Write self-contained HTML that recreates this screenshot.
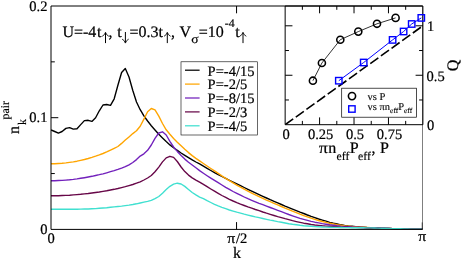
<!DOCTYPE html>
<html><head><meta charset="utf-8"><title>chart</title>
<style>
html,body{margin:0;padding:0;background:#fff;}
svg text{font-family:"Liberation Serif",serif;fill:#000;text-rendering:geometricPrecision;stroke:#000;stroke-width:0.22px;}
svg{will-change:transform;opacity:0.999;}
</style></head>
<body>
<svg width="463" height="259" viewBox="0 0 463 259" style="display:block">
<rect x="0" y="0" width="463" height="259" fill="#fff"/>
<defs><clipPath id="mc"><rect x="51.0" y="6.0" width="371.5" height="223.4"/></clipPath><clipPath id="ic"><rect x="285.15" y="6.0" width="141.35000000000002" height="118.7"/></clipPath></defs>
<g fill="none" stroke-linejoin="round" stroke-linecap="butt" clip-path="url(#mc)">
<path d="M51.0,129.9 L54.7,131.5 L58.4,133.1 L62.1,131.5 L65.9,128.4 L69.6,127.6 L73.3,129.1 L77.0,128.8 L80.7,124.6 L84.4,120.6 L88.2,120.3 L91.9,121.4 L95.6,117.8 L99.3,110.8 L103.0,105.0 L106.7,104.5 L110.5,105.4 L114.2,98.8 L117.9,85.2 L121.6,72.5 L125.3,68.5 L129.0,77.0 L132.8,90.5 L136.5,102.0 L140.2,109.7 L143.9,115.9 L147.6,121.0 L151.3,125.7 L155.0,130.0 L158.8,134.3 L162.5,138.0 L166.2,141.6 L169.9,144.9 L173.6,147.8 L177.3,150.4 L181.1,153.0 L184.8,155.4 L188.5,157.7 L192.2,159.9 L195.9,162.0 L199.6,163.9 L203.4,166.1 L207.1,168.3 L210.8,170.5 L214.5,172.6 L218.2,174.6 L221.9,176.5 L225.7,178.4 L229.4,180.3 L233.1,182.1 L236.8,183.9 L240.5,185.7 L244.2,187.5 L247.9,189.3 L251.7,191.1 L255.4,192.9 L259.1,194.6 L262.8,196.3 L266.5,198.0 L270.2,199.7 L274.0,201.3 L277.7,202.9 L281.4,204.5 L285.1,206.1 L288.8,207.6 L292.5,209.1 L296.3,210.6 L300.0,212.1 L303.7,213.5 L307.4,215.0 L311.1,216.4 L314.8,217.7 L318.6,219.0 L322.3,220.1 L326.0,221.2 L329.7,222.3 L333.4,223.2 L337.1,224.0 L340.8,224.8 L344.6,225.4 L348.3,225.9 L352.0,226.3 L355.7,226.7 L359.4,227.0 L363.1,227.2 L366.9,227.5 L370.6,227.7 L374.3,227.8 L378.0,228.0 L381.7,228.2 L385.4,228.3 L389.2,228.4 L392.9,228.6 L396.6,228.7 L400.3,228.8 L404.0,228.9 L407.7,229.0 L411.5,229.1 L415.2,229.2 L418.9,229.2 L422.6,229.3" stroke="#000000" stroke-width="1.38"/>
<path d="M51.0,163.8 L54.7,163.7 L58.4,163.5 L62.1,163.3 L65.9,162.9 L69.6,162.4 L73.3,161.9 L77.0,161.2 L80.7,160.3 L84.4,159.5 L88.2,158.5 L91.9,157.4 L95.6,156.2 L99.3,154.9 L103.0,153.5 L106.7,151.9 L110.5,150.1 L114.2,148.3 L117.9,146.5 L121.6,143.4 L125.3,140.1 L129.0,136.9 L132.8,133.6 L136.5,130.8 L140.2,126.2 L143.9,119.1 L147.6,111.7 L151.3,108.5 L155.0,109.9 L158.8,116.1 L162.5,123.5 L166.2,129.8 L169.9,134.3 L173.6,138.5 L177.3,142.2 L181.1,145.8 L184.8,149.3 L188.5,152.6 L192.2,155.6 L195.9,158.4 L199.6,160.9 L203.4,163.5 L207.1,166.0 L210.8,168.5 L214.5,170.9 L218.2,173.4 L221.9,175.9 L225.7,178.3 L229.4,180.6 L233.1,182.9 L236.8,185.1 L240.5,187.2 L244.2,189.2 L247.9,191.2 L251.7,193.1 L255.4,194.9 L259.1,196.7 L262.8,198.4 L266.5,200.1 L270.2,201.7 L274.0,203.4 L277.7,204.9 L281.4,206.5 L285.1,208.1 L288.8,209.6 L292.5,211.2 L296.3,212.7 L300.0,214.2 L303.7,215.6 L307.4,216.9 L311.1,218.2 L314.8,219.4 L318.6,220.5 L322.3,221.5 L326.0,222.4 L329.7,223.3 L333.4,224.0 L337.1,224.7 L340.8,225.2 L344.6,225.7 L348.3,226.1 L352.0,226.5 L355.7,226.8 L359.4,227.1 L363.1,227.3 L366.9,227.5 L370.6,227.7 L374.3,227.9 L378.0,228.0 L381.7,228.2 L385.4,228.3 L389.2,228.4 L392.9,228.6 L396.6,228.7 L400.3,228.8 L404.0,228.9 L407.7,229.0 L411.5,229.1 L415.2,229.2 L418.9,229.2 L422.6,229.3" stroke="#ffa500" stroke-width="1.38"/>
<path d="M51.0,180.7 L54.7,180.7 L58.4,180.5 L62.1,180.4 L65.9,180.1 L69.6,179.8 L73.3,179.4 L77.0,178.9 L80.7,178.3 L84.4,177.7 L88.2,177.0 L91.9,176.3 L95.6,175.5 L99.3,174.7 L103.0,173.8 L106.7,172.8 L110.5,171.7 L114.2,170.6 L117.9,169.4 L121.6,168.1 L125.3,166.7 L129.0,164.8 L132.8,162.5 L136.5,159.6 L140.2,156.1 L143.9,153.8 L147.6,150.3 L151.3,145.0 L155.0,138.3 L158.8,133.0 L162.5,131.8 L166.2,135.0 L169.9,141.3 L173.6,147.0 L177.3,151.4 L181.1,155.4 L184.8,159.1 L188.5,162.2 L192.2,165.0 L195.9,167.8 L199.6,170.6 L203.4,173.2 L207.1,175.7 L210.8,178.1 L214.5,180.4 L218.2,182.7 L221.9,185.0 L225.7,187.3 L229.4,189.4 L233.1,191.5 L236.8,193.4 L240.5,195.2 L244.2,197.0 L247.9,198.7 L251.7,200.3 L255.4,201.8 L259.1,203.3 L262.8,204.7 L266.5,206.1 L270.2,207.5 L274.0,208.9 L277.7,210.3 L281.4,211.7 L285.1,213.1 L288.8,214.5 L292.5,215.8 L296.3,217.1 L300.0,218.3 L303.7,219.3 L307.4,220.3 L311.1,221.3 L314.8,222.2 L318.6,222.9 L322.3,223.6 L326.0,224.2 L329.7,224.8 L333.4,225.2 L337.1,225.7 L340.8,226.1 L344.6,226.4 L348.3,226.7 L352.0,227.0 L355.7,227.2 L359.4,227.4 L363.1,227.5 L366.9,227.6 L370.6,227.8 L374.3,227.9 L378.0,228.0 L381.7,228.2 L385.4,228.3 L389.2,228.4 L392.9,228.6 L396.6,228.7 L400.3,228.8 L404.0,228.9 L407.7,229.0 L411.5,229.1 L415.2,229.2 L418.9,229.2 L422.6,229.3" stroke="#7221bc" stroke-width="1.38"/>
<path d="M51.0,195.8 L54.7,195.7 L58.4,195.7 L62.1,195.5 L65.9,195.4 L69.6,195.2 L73.3,194.9 L77.0,194.6 L80.7,194.3 L84.4,193.9 L88.2,193.5 L91.9,193.0 L95.6,192.5 L99.3,192.0 L103.0,191.4 L106.7,190.8 L110.5,190.0 L114.2,189.3 L117.9,188.5 L121.6,187.6 L125.3,186.7 L129.0,185.6 L132.8,184.5 L136.5,183.2 L140.2,181.8 L143.9,180.0 L147.6,178.0 L151.3,175.5 L155.0,171.8 L158.8,167.1 L162.5,161.9 L166.2,157.9 L169.9,156.3 L173.6,157.4 L177.3,161.5 L181.1,167.0 L184.8,171.6 L188.5,175.1 L192.2,177.9 L195.9,180.1 L199.6,182.1 L203.4,184.4 L207.1,186.7 L210.8,189.0 L214.5,191.2 L218.2,193.4 L221.9,195.5 L225.7,197.4 L229.4,199.3 L233.1,201.0 L236.8,202.6 L240.5,204.1 L244.2,205.5 L247.9,206.9 L251.7,208.2 L255.4,209.5 L259.1,210.7 L262.8,212.0 L266.5,213.2 L270.2,214.3 L274.0,215.5 L277.7,216.6 L281.4,217.6 L285.1,218.7 L288.8,219.7 L292.5,220.7 L296.3,221.6 L300.0,222.4 L303.7,223.2 L307.4,223.8 L311.1,224.5 L314.8,225.0 L318.6,225.4 L322.3,225.8 L326.0,226.1 L329.7,226.3 L333.4,226.6 L337.1,226.8 L340.8,227.0 L344.6,227.1 L348.3,227.3 L352.0,227.4 L355.7,227.4 L359.4,227.5 L363.1,227.6 L366.9,227.7 L370.6,227.8 L374.3,227.9 L378.0,228.0 L381.7,228.1 L385.4,228.3 L389.2,228.4 L392.9,228.6 L396.6,228.7 L400.3,228.8 L404.0,228.9 L407.7,229.0 L411.5,229.1 L415.2,229.2 L418.9,229.2 L422.6,229.3" stroke="#670748" stroke-width="1.38"/>
<path d="M51.0,209.2 L54.7,209.2 L58.4,209.2 L62.1,209.2 L65.9,209.2 L69.6,209.2 L73.3,209.2 L77.0,209.2 L80.7,209.1 L84.4,209.0 L88.2,209.0 L91.9,208.8 L95.6,208.6 L99.3,208.3 L103.0,208.0 L106.7,207.7 L110.5,207.3 L114.2,206.9 L117.9,206.5 L121.6,206.1 L125.3,205.6 L129.0,205.1 L132.8,204.5 L136.5,203.8 L140.2,203.0 L143.9,202.2 L147.6,201.4 L151.3,200.4 L155.0,198.7 L158.8,196.5 L162.5,193.2 L166.2,189.6 L169.9,186.3 L173.6,184.1 L177.3,183.2 L181.1,184.0 L184.8,186.4 L188.5,189.5 L192.2,192.5 L195.9,194.9 L199.6,197.1 L203.4,198.7 L207.1,200.7 L210.8,202.5 L214.5,204.3 L218.2,205.9 L221.9,207.4 L225.7,208.7 L229.4,210.0 L233.1,211.1 L236.8,212.2 L240.5,213.2 L244.2,214.2 L247.9,215.1 L251.7,216.0 L255.4,216.9 L259.1,217.7 L262.8,218.5 L266.5,219.3 L270.2,220.1 L274.0,220.8 L277.7,221.6 L281.4,222.3 L285.1,223.0 L288.8,223.7 L292.5,224.3 L296.3,224.8 L300.0,225.3 L303.7,225.7 L307.4,226.0 L311.1,226.3 L314.8,226.6 L318.6,226.8 L322.3,227.0 L326.0,227.1 L329.7,227.2 L333.4,227.4 L337.1,227.4 L340.8,227.5 L344.6,227.6 L348.3,227.6 L352.0,227.7 L355.7,227.7 L359.4,227.8 L363.1,227.8 L366.9,227.9 L370.6,227.9 L374.3,228.0 L378.0,228.1 L381.7,228.2 L385.4,228.3 L389.2,228.4 L392.9,228.6 L396.6,228.7 L400.3,228.8 L404.0,228.9 L407.7,229.0 L411.5,229.1 L415.2,229.2 L418.9,229.2 L422.6,229.3" stroke="#40e0d0" stroke-width="1.38"/>
</g>
<rect x="181.0" y="61.8" width="76.5" height="73.2" fill="#fff" stroke="#000" stroke-width="0.6"/>
<line x1="185.0" x2="199.6" y1="70.20" y2="70.20" stroke="#000000" stroke-width="1.25"/>
<text x="207.6" y="75.5" font-size="14.5">P=-4/15</text>
<line x1="185.0" x2="199.6" y1="84.10" y2="84.10" stroke="#ffa500" stroke-width="1.25"/>
<text x="207.6" y="89.3" font-size="14.5">P=-2/5</text>
<line x1="185.0" x2="199.6" y1="98.00" y2="98.00" stroke="#7221bc" stroke-width="1.25"/>
<text x="207.6" y="103.1" font-size="14.5">P=-8/15</text>
<line x1="185.0" x2="199.6" y1="111.90" y2="111.90" stroke="#670748" stroke-width="1.25"/>
<text x="207.6" y="116.9" font-size="14.5">P=-2/3</text>
<line x1="185.0" x2="199.6" y1="125.80" y2="125.80" stroke="#40e0d0" stroke-width="1.25"/>
<text x="207.6" y="130.7" font-size="14.5">P=-4/5</text>
<rect x="285.15" y="6.0" width="137.35000000000002" height="118.7" fill="#fff"/>
<g stroke="#000" stroke-width="1.0" fill="none">
<path d="M422.5,6.0 H51.0 V229.4 H422.5"/>
<line x1="422.5" x2="422.5" y1="6.0" y2="229.4" stroke-opacity="0.5"/>
<line x1="422.2" x2="422.2" y1="222.4" y2="229.4" stroke-opacity="0.6"/>
<line x1="51.0" x2="58.3" y1="117.70" y2="117.70"/>
<line x1="51.0" x2="54.8" y1="173.55" y2="173.55"/>
<line x1="51.0" x2="54.8" y1="61.85" y2="61.85"/>
<line x1="236.55" x2="236.55" y1="229.4" y2="222.1"/>
<line x1="236.55" x2="236.55" y1="6.0" y2="13.3"/>
<path d="M285.15,6.0 V124.7 H422.9 V6.0 H285.15"/>
<line x1="285.15" x2="292.45" y1="25.80" y2="25.80"/>
<line x1="422.9" x2="415.59999999999997" y1="25.80" y2="25.80"/>
<line x1="285.15" x2="292.45" y1="75.25" y2="75.25"/>
<line x1="422.9" x2="415.59999999999997" y1="75.25" y2="75.25"/>
<line x1="285.15" x2="288.95" y1="99.97" y2="99.97"/>
<line x1="422.9" x2="419.09999999999997" y1="99.97" y2="99.97"/>
<line x1="285.15" x2="288.95" y1="50.52" y2="50.52"/>
<line x1="422.9" x2="419.09999999999997" y1="50.52" y2="50.52"/>
<line x1="319.59" x2="319.59" y1="124.7" y2="117.4"/>
<line x1="319.59" x2="319.59" y1="6.0" y2="13.3"/>
<line x1="354.02" x2="354.02" y1="124.7" y2="117.4"/>
<line x1="354.02" x2="354.02" y1="6.0" y2="13.3"/>
<line x1="388.46" x2="388.46" y1="124.7" y2="117.4"/>
<line x1="388.46" x2="388.46" y1="6.0" y2="13.3"/>
<line x1="302.37" x2="302.37" y1="124.7" y2="120.9"/>
<line x1="302.37" x2="302.37" y1="6.0" y2="9.8"/>
<line x1="336.81" x2="336.81" y1="124.7" y2="120.9"/>
<line x1="336.81" x2="336.81" y1="6.0" y2="9.8"/>
<line x1="371.24" x2="371.24" y1="124.7" y2="120.9"/>
<line x1="371.24" x2="371.24" y1="6.0" y2="9.8"/>
<line x1="405.68" x2="405.68" y1="124.7" y2="120.9"/>
<line x1="405.68" x2="405.68" y1="6.0" y2="9.8"/>
</g>
<g clip-path="url(#ic)" fill="none">
<line x1="285.15" y1="124.7" x2="422.9" y2="25.80" stroke="#000" stroke-width="1.6" stroke-dasharray="9.9 3.2"/>
<polyline points="312.9,80.7 321.9,63.0 340.3,39.7 358.3,31.6 377.0,23.8 395.6,17.9" stroke="#000" stroke-width="0.8"/>
<polyline points="338.8,80.7 363.7,62.5 392.6,39.9 403.6,31.5 411.7,24.0 421.3,17.9" stroke="#0000ff" stroke-width="1"/>
</g>
<circle cx="312.9" cy="80.7" r="3.55" fill="#fff" fill-opacity="0" stroke="#000" stroke-width="1.55"/>
<circle cx="321.9" cy="63.0" r="3.55" fill="#fff" fill-opacity="0" stroke="#000" stroke-width="1.55"/>
<circle cx="340.3" cy="39.7" r="3.55" fill="#fff" fill-opacity="0" stroke="#000" stroke-width="1.55"/>
<circle cx="358.3" cy="31.6" r="3.55" fill="#fff" fill-opacity="0" stroke="#000" stroke-width="1.55"/>
<circle cx="377.0" cy="23.8" r="3.55" fill="#fff" fill-opacity="0" stroke="#000" stroke-width="1.55"/>
<circle cx="395.6" cy="17.9" r="3.55" fill="#fff" fill-opacity="0" stroke="#000" stroke-width="1.55"/>
<rect x="335.6" y="77.5" width="6.4" height="6.4" fill="none" stroke="#0000ff" stroke-width="1.4"/>
<rect x="360.5" y="59.3" width="6.4" height="6.4" fill="none" stroke="#0000ff" stroke-width="1.4"/>
<rect x="389.4" y="36.7" width="6.4" height="6.4" fill="none" stroke="#0000ff" stroke-width="1.4"/>
<rect x="400.4" y="28.3" width="6.4" height="6.4" fill="none" stroke="#0000ff" stroke-width="1.4"/>
<rect x="408.5" y="20.8" width="6.4" height="6.4" fill="none" stroke="#0000ff" stroke-width="1.4"/>
<rect x="418.1" y="14.7" width="6.4" height="6.4" fill="none" stroke="#0000ff" stroke-width="1.4"/>
<rect x="341.7" y="88.2" width="74.7" height="29.0" fill="#fff" stroke="#000" stroke-width="0.7"/>
<circle cx="352.0" cy="96.1" r="3.6" fill="none" stroke="#000" stroke-width="1.6"/>
<rect x="348.7" y="105.8" width="6.4" height="6.4" fill="none" stroke="#0000ff" stroke-width="1.4"/>
<text x="367.6" y="99.5" font-size="10.5" style="stroke-width:0.12px">vs P</text>
<text x="367.6" y="110.4" font-size="10.5" style="stroke-width:0.12px">vs πn<tspan font-size="7.4" dy="2.6">eff</tspan><tspan dy="-2.6">P</tspan><tspan font-size="7.4" dy="2.6">eff</tspan></text>
<g font-size="14.5">
<text x="47.4" y="10.8" text-anchor="end">0.2</text>
<text x="47.4" y="122.4" text-anchor="end">0.1</text>
<text x="47.4" y="233.9" text-anchor="end">0</text>
<text x="51.1" y="243.1" text-anchor="middle">0</text>
<text transform="translate(227.3,242.9) scale(1.09,1)">π</text>
<text x="236.0" y="242.9">/2</text>
<text transform="translate(418.2,240.6) scale(1.09,1)">π</text>
<text x="286.1" y="139.0" text-anchor="middle">0</text>
<text x="320.6" y="139.0" text-anchor="middle">0.25</text>
<text x="355.0" y="139.0" text-anchor="middle">0.5</text>
<text x="389.5" y="139.0" text-anchor="middle">0.75</text>
<text x="427.0" y="30.9">1</text>
<text x="426.6" y="81.0">0.5</text>
<text x="427.0" y="129.7">0</text>
</g>
<text x="237" y="257.7" font-size="16" text-anchor="middle">k</text>
<g font-size="16">
<text transform="translate(319.1,153.2) scale(1.09,1)">π</text>
<text x="328.3" y="153.2">n</text>
<text x="336.5" y="160.0" font-size="11.8" style="stroke-width:0.15px">eff</text>
<text x="349.7" y="153.2">P</text>
<text x="358.0" y="160.0" font-size="11.8" style="stroke-width:0.15px">eff</text>
<text x="371.4" y="153.2">,</text>
<text x="380.1" y="153.2">P</text>
</g>
<text transform="translate(458.1,71.2) rotate(-90)" font-size="16">Q</text>
<text transform="translate(19.1,134) rotate(-90)" font-size="16">n<tspan font-size="11.8" dy="7" dx="1" style="stroke-width:0.15px">k</tspan><tspan font-size="11.8" dy="-17.0" dx="-0.4" style="stroke-width:0.15px">pair</tspan></text>
<g font-size="16">
<text x="62.4" y="36.6">U=-4</text>
<text x="97.1" y="36.6">t</text>
<path d="M105.5,43.1 V32.8" fill="none" stroke="#000" stroke-width="1.0"/><path d="M102.2,36.3 Q104.8,35.0 105.5,32.3 Q106.2,35.0 108.8,36.3" fill="none" stroke="#000" stroke-width="0.85"/>
<text x="108.6" y="36.6">,</text>
<text x="117.2" y="36.6">t</text>
<path d="M125.4,32.0 V42.6" fill="none" stroke="#000" stroke-width="1.0"/><path d="M122.10000000000001,39.1 Q124.7,40.4 125.4,43.1 Q126.10000000000001,40.4 128.70000000000002,39.1" fill="none" stroke="#000" stroke-width="0.85"/>
<text x="129.4" y="36.6">=0.3t</text>
<path d="M167.3,43.1 V32.8" fill="none" stroke="#000" stroke-width="1.0"/><path d="M164.0,36.3 Q166.60000000000002,35.0 167.3,32.3 Q168.0,35.0 170.60000000000002,36.3" fill="none" stroke="#000" stroke-width="0.85"/>
<text x="171" y="36.6">,</text>
<text x="179.6" y="36.6">V</text>
<text transform="translate(191.2,43.4) scale(1.08,1)" font-size="12.6" style="stroke-width:0.2px">σ</text>
<text x="198.8" y="36.6">=10</text>
<text x="224.8" y="26.8" font-size="11.8" style="stroke-width:0.2px">-4</text>
<text x="235.2" y="36.6">t</text>
<path d="M243.0,43.1 V32.8" fill="none" stroke="#000" stroke-width="1.0"/><path d="M239.7,36.3 Q242.3,35.0 243.0,32.3 Q243.7,35.0 246.3,36.3" fill="none" stroke="#000" stroke-width="0.85"/>
</g>
</svg>
</body></html>
